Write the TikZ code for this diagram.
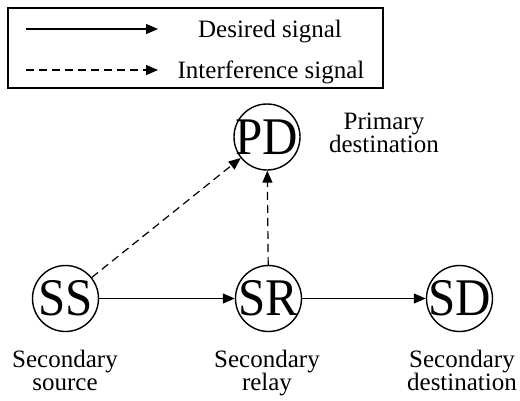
\documentclass[tikz,border=0pt]{standalone}
\usepackage{fontspec}
\setmainfont{Liberation Serif}
\usetikzlibrary{arrows.meta}
\newcommand{\tallname}[1]{\scalebox{1}[1.08]{#1}}
\begin{document}
\begin{tikzpicture}[x=1pt,y=-1pt,
  every node/.style={inner sep=0pt},
  station/.style={circle, draw, line width=1.4pt, minimum size=66pt, inner sep=-14pt,
    font=\fontsize{49}{49}\selectfont},
  lbl/.style={align=center, anchor=north, font=\fontsize{25}{23}\selectfont},
  legtext/.style={font=\fontsize{25}{25}\selectfont},
  sig/.style={line width=1.2pt, -{Triangle[length=12pt,width=10pt]}},
  intf/.style={sig, dash pattern=on 8pt off 5pt},
]
\useasboundingbox (0,0) rectangle (520,400);
% legend
\node[draw, line width=1.5pt, minimum width=375pt, minimum height=80pt] (legend) at (195.5,48) {};
\coordinate (l1s) at (26,29);
\coordinate (l1e) at (158,29);
\coordinate (l2s) at (26,70);
\coordinate (l2e) at (158,70);
\draw[sig] (l1s) -- (l1e);
\draw[intf] (l2s) -- (l2e);
\node[legtext, anchor=base] (l1t) at (270,37) {Desired signal};
\node[legtext, anchor=base] (l2t) at (271,78) {Interference signal};
% stations
\node[station] (pd) at (267,137) {\tallname{PD}};
\node[station] (ss) at (65.5,298.5) {\tallname{SS}};
\node[station] (sr) at (268.5,298.5) {\tallname{SR}};
\node[station] (sd) at (459.5,298.5) {\tallname{SD}};
% labels
\node[lbl] (pdl) at (384,113) {Primary\\destination};
\node[lbl] (ssl) at (65,350) {Secondary\\source};
\node[lbl] (srl) at (267,350) {Secondary\\relay};
\node[lbl] (sdl) at (462,350) {Secondary\\destination};
% links
\draw[sig] (ss) -- (sr);
\draw[sig] (sr) -- (sd);
\draw[intf] (sr) -- (pd);
\draw[intf] (ss) -- (pd);
\end{tikzpicture}
\end{document}
